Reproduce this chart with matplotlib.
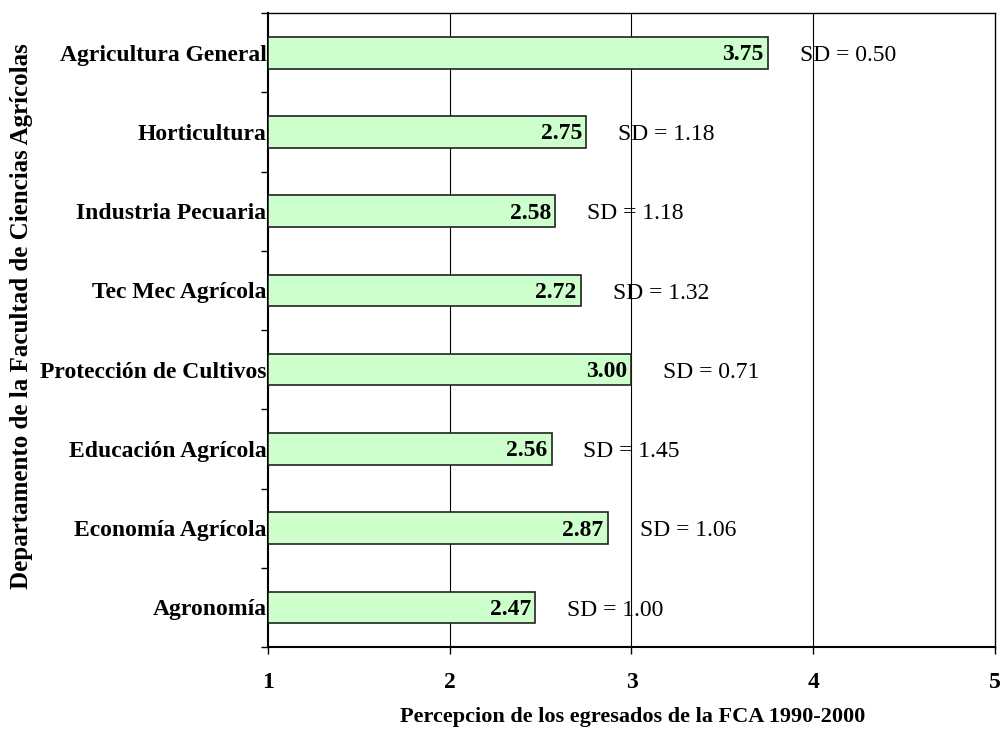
import numpy as np
import matplotlib
matplotlib.use('Agg')
import matplotlib.pyplot as plt
from matplotlib.ticker import FixedLocator, NullFormatter

plt.rcParams['font.family'] = ['Liberation Serif', 'DejaVu Serif']

departamentos = ['Agronomía', 'Economía Agrícola', 'Educación Agrícola',
                 'Protección de Cultivos', 'Tec Mec Agrícola', 'Industria Pecuaria',
                 'Horticultura', 'Agricultura General']
medias = [2.47, 2.87, 2.56, 3.00, 2.72, 2.58, 2.75, 3.75]
sd = [1.00, 1.06, 1.45, 0.71, 1.32, 1.18, 1.18, 0.50]

fs = 17

fig = plt.figure(figsize=(10.03, 7.32), dpi=100)
ax = fig.add_axes([0.2672, 0.1161, 0.7248, 0.8661])

y = np.arange(len(departamentos))
ax.barh(y, np.array(medias) - 1, left=1, height=0.4, color='#CCFFCC',
        edgecolor='#222222', linewidth=1.2, zorder=3)

for i in range(len(departamentos)):
    ax.annotate('%.2f' % medias[i], (medias[i], y[i]), xytext=(-3, -1.5),
                textcoords='offset points', ha='right', va='center',
                fontsize=fs, fontweight='bold', zorder=4)
    ax.annotate('SD = %.2f' % sd[i], (medias[i], y[i]), xytext=(23, -2),
                textcoords='offset points', ha='left', va='center',
                fontsize=fs, zorder=1)

ax.set_xlim(1, 5)
ax.set_ylim(-0.5, len(departamentos) - 0.5)
ax.set_xticks([1, 2, 3, 4, 5])
ax.set_xticklabels(['1', '2', '3', '4', '5'], fontsize=fs, fontweight='bold')
ax.tick_params(axis='x', length=5, width=1, direction='out', pad=13)
for gx in [2, 3, 4]:
    ax.axvline(gx, color='black', linewidth=0.8, zorder=1)

ax.set_yticks(y)
ax.set_yticklabels(departamentos, fontsize=fs, fontweight='bold')
ax.tick_params(axis='y', which='major', length=0, pad=1)
ax.yaxis.set_minor_locator(FixedLocator(np.arange(-0.5, len(departamentos), 1)))
ax.yaxis.set_minor_formatter(NullFormatter())
ax.tick_params(axis='y', which='minor', length=5, width=1, direction='out')

for s in ax.spines.values():
    s.set_linewidth(1)
    s.set_color('black')
ax.spines['left'].set_linewidth(1.5)
ax.spines['bottom'].set_linewidth(1.5)

fig.text(0.631, 0.021, 'Percepcion de los egresados de la FCA 1990-2000',
         ha='center', va='center', fontsize=16, fontweight='bold')
fig.text(0.021, 0.568, 'Departamento de la Facultad de Ciencias Agrícolas',
         ha='center', va='center', rotation=90, fontsize=18, fontweight='bold')

fig.savefig('out.png', dpi=100)
